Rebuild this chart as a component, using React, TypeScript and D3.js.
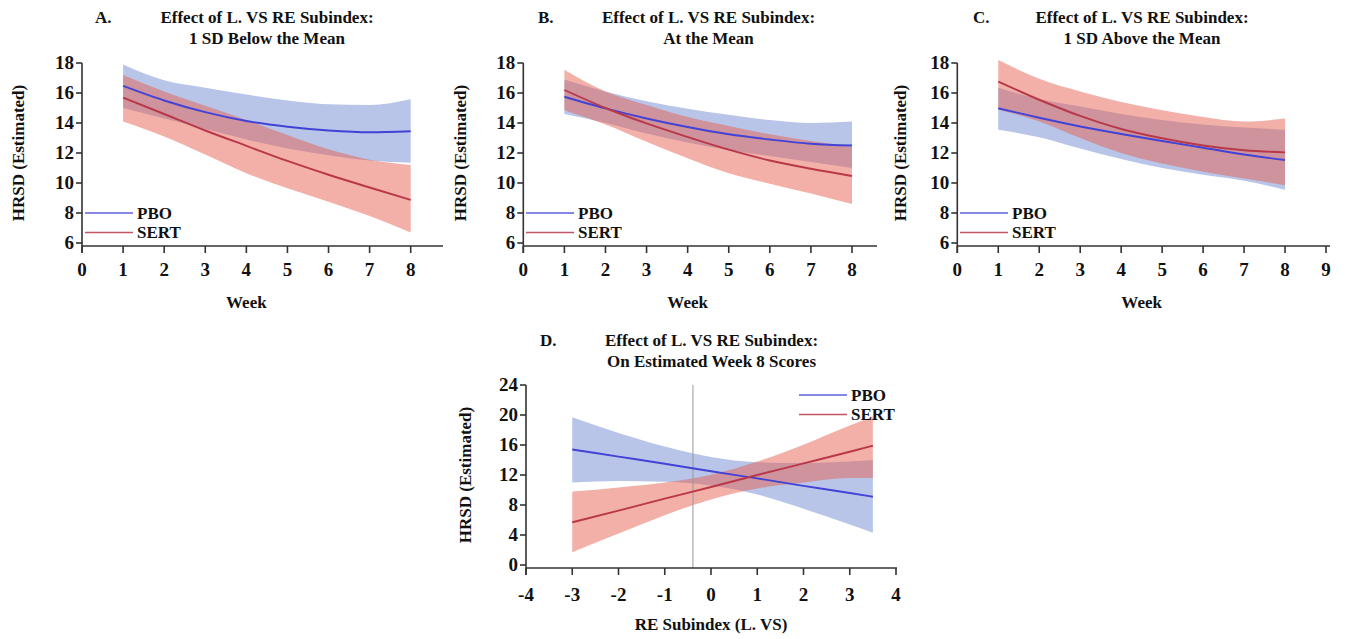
import React from "react";
import * as d3 from "d3";

// ---------- data ----------
const weeks = [1, 2, 3, 4, 5, 6, 7, 8];

const aPboMean = [16.47, 15.5, 14.72, 14.13, 13.75, 13.5, 13.38, 13.45];
const aPboHi = [17.9, 16.85, 16.35, 15.9, 15.5, 15.25, 15.2, 15.58];
const aPboLo = [15.0, 14.3, 13.6, 12.9, 12.3, 11.85, 11.5, 11.35];
const aSertMean = [15.69, 14.6, 13.5, 12.48, 11.47, 10.55, 9.7, 8.87];
const aSertHi = [17.2, 16.1, 15.15, 14.2, 13.2, 12.25, 11.55, 11.2];
const aSertLo = [14.1, 13.1, 11.9, 10.65, 9.65, 8.75, 7.8, 6.7];

const bPboMean = [15.75, 14.97, 14.3, 13.73, 13.25, 12.9, 12.62, 12.5];
const bPboHi = [16.9, 16.1, 15.45, 14.95, 14.55, 14.2, 14.0, 14.1];
const bPboLo = [14.6, 14.0, 13.3, 12.7, 12.2, 11.8, 11.4, 11.0];
const bSertMean = [16.2, 15.0, 13.97, 13.07, 12.22, 11.5, 10.95, 10.47];
const bSertHi = [17.55, 16.1, 15.2, 14.4, 13.8, 13.25, 12.8, 12.4];
const bSertLo = [14.85, 13.9, 12.75, 11.65, 10.65, 9.95, 9.3, 8.6];

const cPboMean = [14.98, 14.35, 13.77, 13.27, 12.8, 12.35, 11.9, 11.53];
const cPboHi = [16.35, 15.6, 15.1, 14.6, 14.2, 13.9, 13.7, 13.55];
const cPboLo = [13.55, 13.05, 12.3, 11.6, 11.0, 10.55, 10.15, 9.55];
const cSertMean = [16.76, 15.55, 14.47, 13.6, 12.98, 12.5, 12.18, 12.04];
const cSertHi = [18.2, 16.95, 16.1, 15.4, 14.85, 14.4, 14.1, 14.3];
const cSertLo = [14.9, 14.1, 13.0, 12.0, 11.3, 10.75, 10.3, 9.85];

const dX = [-3, -2, -1, 0, 1, 2, 3, 3.5];
const dPboMean = [15.4, 14.45, 13.5, 12.5, 11.55, 10.55, 9.6, 9.1];
const dPboHi = [19.7, 17.6, 15.8, 14.4, 13.7, 13.6, 13.8, 14.0];
const dPboLo = [11.0, 11.2, 11.1, 10.6, 9.4, 7.5, 5.4, 4.3];
const dSertMean = [5.7, 7.25, 8.85, 10.4, 12.0, 13.55, 15.1, 15.9];
const dSertHi = [9.8, 10.35, 11.0, 12.05, 13.8, 16.05, 18.6, 19.8];
const dSertLo = [1.7, 4.2, 6.65, 8.75, 10.2, 11.0, 11.6, 11.6];
const dRefLine = -0.39;

const weekYTicks = [6, 8, 10, 12, 14, 16, 18];
const weekXTicksAB = [0, 1, 2, 3, 4, 5, 6, 7, 8];
const weekXTicksC = [0, 1, 2, 3, 4, 5, 6, 7, 8, 9];
const dYTicks = [0, 4, 8, 12, 16, 20, 24];
const dXTicks = [-4, -3, -2, -1, 0, 1, 2, 3, 4];

const seriesNames = ["PBO", "SERT"];

// ---------- styles ----------
const FONT = "'Liberation Serif', 'Times New Roman', serif";
const PBO_LINE = "#4242d6";
const SERT_LINE = "#b8384a";
const PBO_BAND = "#b8c5e8";
const SERT_BAND = "rgb(229,97,81)";
const AXIS = "#333";

type Series = { mean: number[]; lo: number[]; hi: number[] };

type PanelProps = {
  letter: string;
  title: [string, string];
  titleX: number;
  letterX: number;
  titleY: number;
  xs: number[];
  pbo: Series;
  sert: Series;
  xDomain: [number, number];
  xRange: [number, number];
  yDomain: [number, number];
  yRange: [number, number];
  xTicks: number[];
  yTicks: number[];
  axisEnd: number;
  xAxisY: number;
  xLabel: string;
  xLabelY: number;
  yLabelX: number;
  tickLabelDy: number;
  legend: { x: number; y: number };
  refLine?: number;
};

function Panel(p: PanelProps) {
  const x = d3.scaleLinear().domain(p.xDomain).range(p.xRange);
  const y = d3.scaleLinear().domain(p.yDomain).range(p.yRange);
  const curve = d3.curveMonotoneX;
  const area = (s: Series) =>
    d3
      .area<number>()
      .x((_, i) => x(p.xs[i]))
      .y0((_, i) => y(s.lo[i]))
      .y1((_, i) => y(s.hi[i]))
      .curve(curve)(s.mean) as string;
  const line = (s: Series) =>
    d3
      .line<number>()
      .x((_, i) => x(p.xs[i]))
      .y((d) => y(d))
      .curve(curve)(s.mean) as string;

  const x0 = p.xRange[0];
  const yTop = y(p.yDomain[1]);
  const yMid = (p.yRange[0] + p.yRange[1]) / 2;

  return (
    <g fontFamily={FONT} fontWeight="bold" fill="#111">
      {/* title */}
      <text x={p.letterX} y={p.titleY} fontSize={17}>
        {p.letter}
      </text>
      <text x={p.titleX} y={p.titleY} fontSize={17} textAnchor="middle">
        {p.title[0]}
      </text>
      <text x={p.titleX} y={p.titleY + 21} fontSize={17} textAnchor="middle">
        {p.title[1]}
      </text>

      {/* bands */}
      <path d={area(p.pbo)} fill={PBO_BAND} stroke="none" />
      <path d={area(p.sert)} fill={SERT_BAND} fillOpacity={0.5} stroke="none" />

      {p.refLine !== undefined && (
        <line
          x1={x(p.refLine)}
          x2={x(p.refLine)}
          y1={yTop}
          y2={p.xAxisY}
          stroke="#999"
          strokeWidth={1}
        />
      )}

      {/* lines */}
      <path d={line(p.pbo)} fill="none" stroke={PBO_LINE} strokeWidth={1.9} />
      <path d={line(p.sert)} fill="none" stroke={SERT_LINE} strokeWidth={1.9} />

      {/* y axis */}
      <line x1={x0} x2={x0} y1={yTop} y2={p.xAxisY + 7} stroke={AXIS} strokeWidth={1.6} />
      {p.yTicks.map((t) => (
        <g key={"y" + t}>
          <line x1={x0 - 6} x2={x0} y1={y(t)} y2={y(t)} stroke={AXIS} strokeWidth={1.6} />
          <text x={x0 - 8} y={y(t)} dy="0.34em" fontSize={19} textAnchor="end">
            {t}
          </text>
        </g>
      ))}

      {/* x axis */}
      <line x1={x0} x2={p.axisEnd} y1={p.xAxisY} y2={p.xAxisY} stroke={AXIS} strokeWidth={1.6} />
      {p.xTicks.map((t) => (
        <g key={"x" + t}>
          <line x1={x(t)} x2={x(t)} y1={p.xAxisY} y2={p.xAxisY + 7} stroke={AXIS} strokeWidth={1.6} />
          <text x={x(t)} y={p.xAxisY + p.tickLabelDy} fontSize={19} textAnchor="middle">
            {t}
          </text>
        </g>
      ))}

      {/* axis titles */}
      <text x={(p.xRange[0] + p.xRange[1]) / 2} y={p.xLabelY} fontSize={17} textAnchor="middle">
        {p.xLabel}
      </text>
      <text
        transform={`translate(${p.yLabelX},${yMid}) rotate(-90)`}
        dy="0.34em"
        fontSize={17}
        textAnchor="middle"
      >
        HRSD (Estimated)
      </text>

      {/* legend */}
      {seriesNames.map((n, i) => (
        <g key={n} transform={`translate(${p.legend.x},${p.legend.y + i * 19.5})`}>
          <line
            x1={0}
            x2={48}
            y1={0}
            y2={0}
            stroke={i === 0 ? PBO_LINE : SERT_LINE}
            strokeWidth={1.6}
            opacity={0.85}
          />
          <text x={52} y={0} dy="0.34em" fontSize={17}>
            {n}
          </text>
        </g>
      ))}
    </g>
  );
}

export default function App() {
  return (
    <svg width={1345} height={639} style={{ position: "fixed", left: 0, top: 0, background: "#fff" }}>
      <rect width={1345} height={639} fill="#fff" />
      <Panel
        letter="A."
        title={["Effect of L. VS RE Subindex:", "1 SD Below the Mean"]}
        titleX={267}
        letterX={95}
        titleY={23}
        xs={weeks}
        pbo={{ mean: aPboMean, lo: aPboLo, hi: aPboHi }}
        sert={{ mean: aSertMean, lo: aSertLo, hi: aSertHi }}
        xDomain={[0, 8]}
        xRange={[82, 410.7]}
        yDomain={[6, 18]}
        yRange={[243, 63]}
        xTicks={weekXTicksAB}
        yTicks={weekYTicks}
        axisEnd={443}
        xAxisY={246}
        xLabel="Week"
        xLabelY={308}
        yLabelX={18}
        tickLabelDy={30}
        legend={{ x: 85, y: 213 }}
      />
      <Panel
        letter="B."
        title={["Effect of L. VS RE Subindex:", "At the Mean"]}
        titleX={708.5}
        letterX={538}
        titleY={23}
        xs={weeks}
        pbo={{ mean: bPboMean, lo: bPboLo, hi: bPboHi }}
        sert={{ mean: bSertMean, lo: bSertLo, hi: bSertHi }}
        xDomain={[0, 8]}
        xRange={[523.3, 852]}
        yDomain={[6, 18]}
        yRange={[243, 63]}
        xTicks={weekXTicksAB}
        yTicks={weekYTicks}
        axisEnd={877}
        xAxisY={246}
        xLabel="Week"
        xLabelY={308}
        yLabelX={460}
        tickLabelDy={30}
        legend={{ x: 526, y: 213 }}
      />
      <Panel
        letter="C."
        title={["Effect of L. VS RE Subindex:", "1 SD Above the Mean"]}
        titleX={1142}
        letterX={973}
        titleY={23}
        xs={weeks}
        pbo={{ mean: cPboMean, lo: cPboLo, hi: cPboHi }}
        sert={{ mean: cSertMean, lo: cSertLo, hi: cSertHi }}
        xDomain={[0, 9]}
        xRange={[957.3, 1326]}
        yDomain={[6, 18]}
        yRange={[243, 63]}
        xTicks={weekXTicksC}
        yTicks={weekYTicks}
        axisEnd={1330}
        xAxisY={246}
        xLabel="Week"
        xLabelY={308}
        yLabelX={900}
        tickLabelDy={30}
        legend={{ x: 960, y: 213 }}
      />
      <Panel
        letter="D."
        title={["Effect of L. VS RE Subindex:", "On Estimated Week 8 Scores"]}
        titleX={711.5}
        letterX={540}
        titleY={346}
        xs={dX}
        pbo={{ mean: dPboMean, lo: dPboLo, hi: dPboHi }}
        sert={{ mean: dSertMean, lo: dSertLo, hi: dSertHi }}
        xDomain={[-4, 4]}
        xRange={[526, 896]}
        yDomain={[0, 24]}
        yRange={[565, 385]}
        xTicks={dXTicks}
        yTicks={dYTicks}
        axisEnd={897}
        xAxisY={568}
        xLabel="RE Subindex (L. VS)"
        xLabelY={630}
        yLabelX={465}
        tickLabelDy={33}
        legend={{ x: 799, y: 395 }}
        refLine={dRefLine}
      />
    </svg>
  );
}
